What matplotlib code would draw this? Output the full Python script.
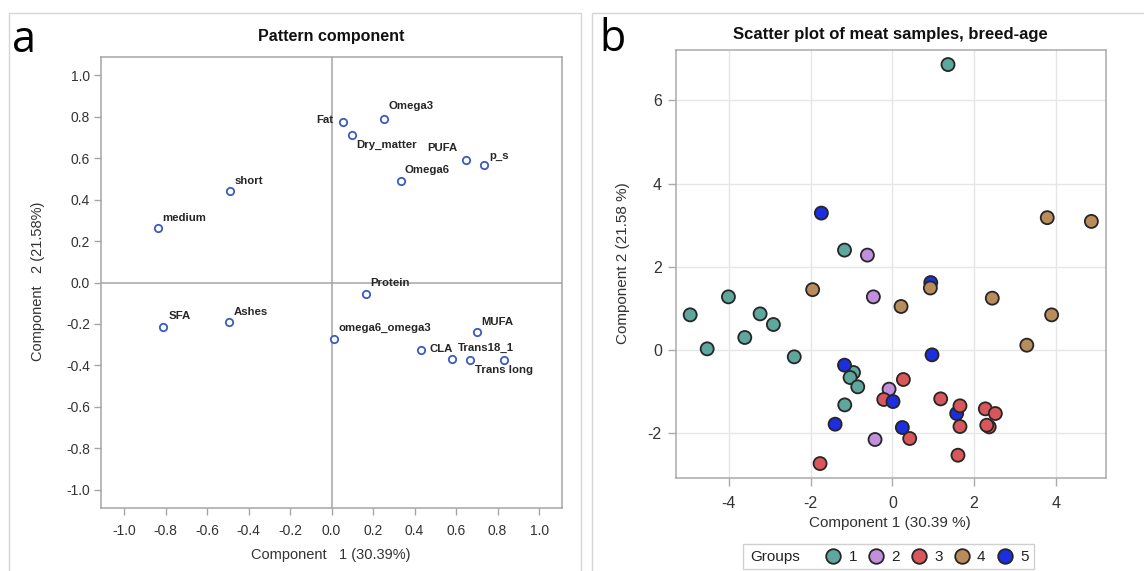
import matplotlib
matplotlib.use("Agg")
import matplotlib.pyplot as plt
from matplotlib.patches import Rectangle
from matplotlib.lines import Line2D

plt.rcParams['font.family'] = ['Liberation Sans', 'DejaVu Sans']
plt.rcParams['axes.unicode_minus'] = False

# ---------------- Panel a data: loadings ----------------
variables = ["Fat", "Omega3", "Dry_matter", "PUFA", "p_s", "Omega6", "short", "medium",
             "Protein", "SFA", "Ashes", "omega6_omega3", "CLA", "MUFA", "Trans18_1",
             "Trans long", ""]
load1 = [0.053, 0.253, 0.100, 0.646, 0.736, 0.333, -0.488, -0.838,
         0.166, -0.811, -0.494, 0.013, 0.431, 0.701, 0.582, 0.667, 0.833]
load2 = [0.773, 0.787, 0.713, 0.592, 0.568, 0.489, 0.443, 0.265,
         -0.055, -0.216, -0.192, -0.272, -0.325, -0.239, -0.369, -0.375, -0.375]
ticks_a = [-1.0, -0.8, -0.6, -0.4, -0.2, 0.0, 0.2, 0.4, 0.6, 0.8, 1.0]

# ---------------- Panel b data: scores ----------------
pc1 = [1.362, -1.17, -4.01, -4.946, -3.235, -2.91, -3.61, -4.53, -2.40, -0.95, -1.034, -0.846, -1.164,
       -0.61, -0.464, -0.08, -0.423,
       -1.768, 0.27, -0.21, 0.425, 1.183, 1.655, 1.606, 2.275, 2.52, 2.37, 2.31,
       -1.736, 0.94, 0.971, -1.17, -1.40, 0.017, 0.245, 1.574,
       1.655,
       3.79, 4.87, 0.93, -1.95, 0.213, 2.445, 3.897, 3.29]
pc2 = [6.86, 2.40, 1.277, 0.844, 0.868, 0.612, 0.30, 0.027, -0.165, -0.542, -0.662, -0.886, -1.32,
       2.28, 1.277, -0.942, -2.152,
       -2.73, -0.71, -1.19, -2.128, -1.175, -1.84, -2.53, -1.415, -1.527, -1.848, -1.808,
       3.29, 1.62, -0.117, -0.365, -1.784, -1.24, -1.864, -1.527,
       -1.343,
       3.18, 3.09, 1.49, 1.45, 1.045, 1.245, 0.844, 0.115]
group = [1] * 13 + [2] * 4 + [3] * 11 + [5] * 8 + [3] + [4] * 8
group_names = [1, 2, 3, 4, 5]
xticks_b = [-4, -2, 0, 2, 4]
yticks_b = [-2, 0, 2, 4, 6]

# ---------------- styles ----------------
group_colors = {1: '#5ea79d', 2: '#c28fdc', 3: '#d9575a', 4: '#b98c5c', 5: '#1d2de0'}
label_offsets = {  # pixel offsets of label centre/edge from point, ha
    "Fat": (-9, 2.5, 'right'), "Omega3": (4, 13, 'left'), "Dry_matter": (4, -10, 'left'),
    "PUFA": (-8, 11.5, 'right'), "p_s": (5, 9, 'left'), "Omega6": (4, 11, 'left'),
    "short": (4, 10, 'left'), "medium": (5, 10, 'left'), "Protein": (4, 11, 'left'),
    "SFA": (5, 11, 'left'), "Ashes": (5, 10, 'left'), "omega6_omega3": (4, 11, 'left'),
    "CLA": (8, 0.5, 'left'), "MUFA": (4, 10, 'left'), "Trans18_1": (6, 11, 'left'),
    "Trans long": (5, -10, 'left'),
}

W, H = 1144, 571
fig = plt.figure(figsize=(W / 100, H / 100), dpi=100)


def fx(px):
    return px / W


def fy(py):
    return 1 - py / H


# panel frames
fig.add_artist(Rectangle((fx(9), fy(575)), fx(581 - 9), (575 - 13) / H,
                         transform=fig.transFigure, fill=False, ec='#d6d6d6', lw=1.0))
fig.add_artist(Rectangle((fx(592), fy(575)), fx(1150 - 592), (575 - 13) / H,
                         transform=fig.transFigure, fill=False, ec='#d6d6d6', lw=1.0))

fig.text(fx(12), fy(52), 'a', fontsize=31, family=['Open Sans', 'DejaVu Sans'], va='baseline')
fig.text(fx(599), fy(51), 'b', fontsize=31, family=['Open Sans', 'DejaVu Sans'], va='baseline')

# ---------------- Panel a ----------------
axa = fig.add_axes([fx(101.3), fy(507.5), fx(460.6), 451 / H])
axa.set_xlim(-1.11, 1.11)
axa.set_ylim(-1.085, 1.09)
axa.axhline(0, color='#a5a5a5', lw=1.1, zorder=1)
axa.axvline(0, color='#a5a5a5', lw=1.1, zorder=1)
axa.plot(load1, load2, ls='none', marker='o', ms=5.3, mfc='white', mec='#3a5cc2', mew=1.3, zorder=3)
for name, x, y in zip(variables, load1, load2):
    if name in label_offsets:
        dx, dy, ha = label_offsets[name]
        axa.annotate(name, (x, y), xytext=(dx * 0.72, dy * 0.72), textcoords='offset points',
                     ha=ha, va='center', fontsize=8.2, fontweight='bold', color='#262626')
axa.set_xticks(ticks_a)
axa.set_yticks(ticks_a)
axa.set_xticklabels([f"{t:.1f}" for t in ticks_a])
axa.set_yticklabels([f"{t:.1f}" for t in ticks_a])
for s in axa.spines.values():
    s.set_color('#a5a5a5')
    s.set_linewidth(1.1)
axa.tick_params(direction='out', length=5, width=1, color='#a5a5a5', labelsize=10,
                labelcolor='#333333')
axa.tick_params(axis='x', pad=7)
axa.tick_params(axis='y', pad=3)
fig.text(fx(331.6), fy(37), 'Pattern component', ha='center', va='center', fontsize=11.5,
         fontweight='bold', color='#111111')
fig.text(fx(331), fy(555), 'Component   1 (30.39%)', ha='center', va='center', fontsize=10.5,
         color='#333333')
fig.text(fx(38), fy(281), 'Component   2 (21.58%)', ha='center', va='center', fontsize=10.5,
         color='#333333', rotation=90)

# ---------------- Panel b ----------------
axb = fig.add_axes([fx(675.7), fy(477.7), fx(430), 427.7 / H])
axb.set_xlim(-5.3, 5.22)
axb.set_ylim(-3.07, 7.21)
axb.grid(True, color='#e6e6e6', lw=1.0, zorder=0)
axb.set_axisbelow(True)
axb.scatter(pc1, pc2, s=88, c=[group_colors[g] for g in group], edgecolors='#262626',
            linewidths=1.3, zorder=3)
axb.set_xticks(xticks_b)
axb.set_yticks(yticks_b)
for s in axb.spines.values():
    s.set_color('#ababab')
    s.set_linewidth(1.1)
axb.tick_params(direction='out', length=6, width=1, color='#ababab', labelsize=11.5,
                labelcolor='#333333')
axb.tick_params(axis='x', pad=7)
axb.tick_params(axis='y', pad=4)
fig.text(fx(890.7), fy(34), 'Scatter plot of meat samples, breed-age', ha='center', va='center',
         fontsize=12, fontweight='bold', color='#111111')
fig.text(fx(890), fy(523), 'Component 1 (30.39 %)', ha='center', va='center', fontsize=11,
         color='#333333')
fig.text(fx(623), fy(263), 'Component 2 (21.58 %)', ha='center', va='center', fontsize=11,
         color='#333333', rotation=90)

# legend
fig.add_artist(Rectangle((fx(743), fy(569)), fx(1034 - 743), 25 / H, transform=fig.transFigure,
                         fill=False, ec='#d0d0d0', lw=1.0))
fig.text(fx(750), fy(557), 'Groups', ha='left', va='center', fontsize=11, color='#222222')
handles = [Line2D([], [], ls='none', marker='o', ms=10.5, mfc=group_colors[g], mec='#262626',
                  mew=1.3) for g in group_names]
fig.legend(handles, [str(g) for g in group_names], ncol=5, loc='center',
           bbox_to_anchor=(fx(927), fy(557)), frameon=False, fontsize=11, handlelength=1.0,
           handletextpad=0.5, columnspacing=0.75, borderpad=0, labelcolor='#222222')

fig.savefig('out.png', dpi=100)
